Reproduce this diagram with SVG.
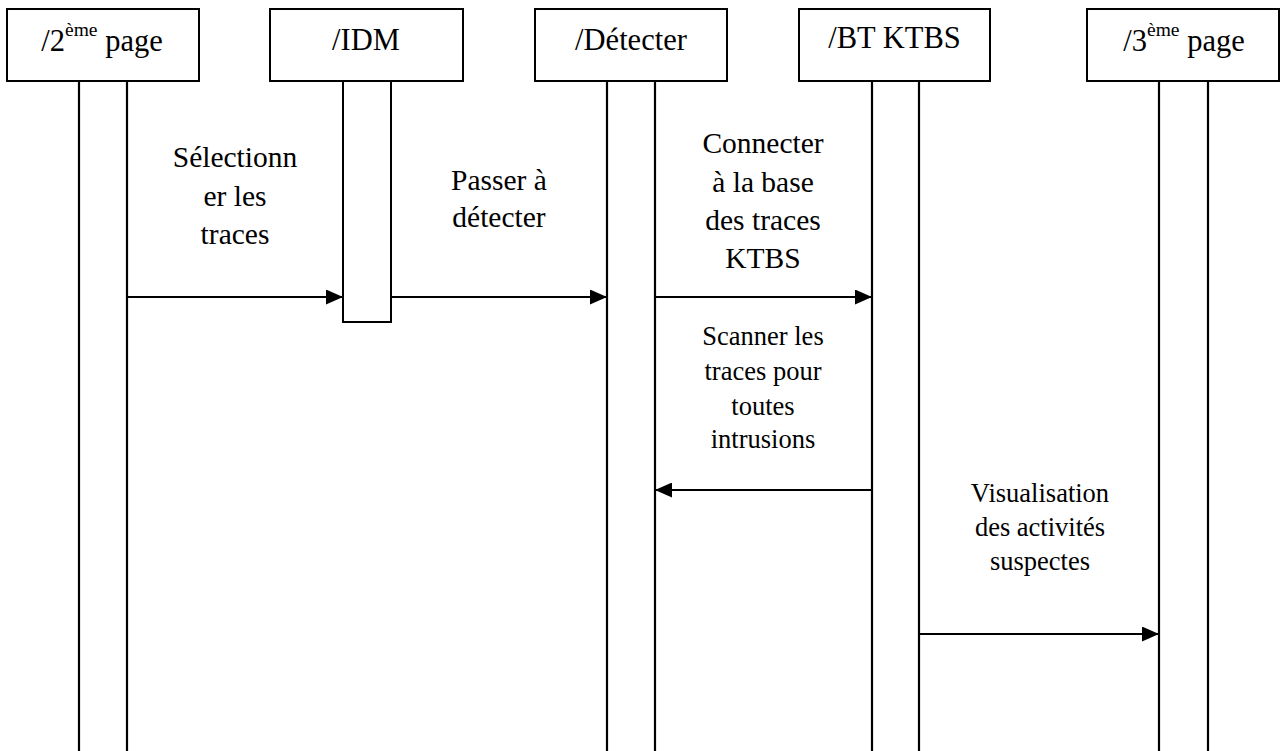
<svg xmlns="http://www.w3.org/2000/svg" width="1281" height="751" viewBox="0 0 1281 751">
  <defs>
    <style>
      .box { fill: #ffffff; stroke: #000000; stroke-width: 2; }
      .life { stroke: #000000; stroke-width: 2.2; fill: none; }
      .msg { stroke: #000000; stroke-width: 2.2; fill: none; }
      .hdr { font-family: "Liberation Serif", "Times New Roman", serif; font-size: 30.5px; fill: #000000; text-anchor: middle; }
      .sup { font-size: 19.5px; }
      .lbl { font-family: "Liberation Serif", "Times New Roman", serif; font-size: 29.5px; fill: #000000; text-anchor: middle; }
      .lbl-s { font-family: "Liberation Serif", "Times New Roman", serif; font-size: 26.5px; fill: #000000; text-anchor: middle; }
    </style>
    <marker id="arrow" markerUnits="userSpaceOnUse" markerWidth="17" markerHeight="15" refX="17" refY="7.5" orient="auto">
      <path d="M0,0 L17,7.5 L0,15 Z" fill="#000000"/>
    </marker>
  </defs>
  <rect width="1281" height="751" fill="#ffffff"/>

  <!-- lifeline: /2ème page -->
  <g id="node-page2">
    <rect class="box" x="7" y="9" width="192" height="72"/>
    <line class="life" x1="79" y1="81" x2="79" y2="751"/>
    <line class="life" x1="127" y1="81" x2="127" y2="751"/>
    <text class="hdr" x="102" y="51">/2<tspan class="sup" dy="-15">ème</tspan><tspan dy="15"> page</tspan></text>
  </g>

  <!-- lifeline: /IDM (short activation) -->
  <g id="node-idm">
    <rect class="box" x="270" y="9" width="193" height="72"/>
    <rect class="box" x="343" y="81" width="48" height="241"/>
    <text class="hdr" x="366" y="50">/IDM</text>
  </g>

  <!-- lifeline: /Détecter -->
  <g id="node-detecter">
    <rect class="box" x="535" y="9" width="192" height="72"/>
    <line class="life" x1="607" y1="81" x2="607" y2="751"/>
    <line class="life" x1="655" y1="81" x2="655" y2="751"/>
    <text class="hdr" x="631" y="50">/Détecter</text>
  </g>

  <!-- lifeline: /BT KTBS -->
  <g id="node-btktbs">
    <rect class="box" x="799" y="9" width="191" height="72"/>
    <line class="life" x1="872" y1="81" x2="872" y2="751"/>
    <line class="life" x1="919" y1="81" x2="919" y2="751"/>
    <text class="hdr" x="894.5" y="48">/BT KTBS</text>
  </g>

  <!-- lifeline: /3ème page -->
  <g id="node-page3">
    <rect class="box" x="1087" y="9" width="192" height="72"/>
    <line class="life" x1="1159" y1="81" x2="1159" y2="751"/>
    <line class="life" x1="1208" y1="81" x2="1208" y2="751"/>
    <text class="hdr" x="1184" y="51">/3<tspan class="sup" dy="-15">ème</tspan><tspan dy="15"> page</tspan></text>
  </g>

  <!-- messages -->
  <g id="connectors">
    <line class="msg" x1="127" y1="297" x2="343" y2="297" marker-end="url(#arrow)"/>
    <line class="msg" x1="391" y1="297" x2="607" y2="297" marker-end="url(#arrow)"/>
    <line class="msg" x1="655" y1="297" x2="872" y2="297" marker-end="url(#arrow)"/>
    <line class="msg" x1="872" y1="490" x2="655" y2="490" marker-end="url(#arrow)"/>
    <line class="msg" x1="919" y1="634" x2="1159" y2="634" marker-end="url(#arrow)"/>
  </g>

  <!-- message labels -->
  <g id="labels">
    <text class="lbl" x="235" y="167">Sélectionn</text>
    <text class="lbl" x="235" y="206">er les</text>
    <text class="lbl" x="235" y="244">traces</text>

    <text class="lbl" x="499" y="190">Passer à</text>
    <text class="lbl" x="499" y="227">détecter</text>

    <text class="lbl" x="763" y="153">Connecter</text>
    <text class="lbl" x="763" y="192">à la base</text>
    <text class="lbl" x="763" y="230">des traces</text>
    <text class="lbl" x="763" y="268">KTBS</text>

    <text class="lbl-s" x="763" y="345">Scanner les</text>
    <text class="lbl-s" x="763" y="380">traces pour</text>
    <text class="lbl-s" x="763" y="415">toutes</text>
    <text class="lbl-s" x="763" y="448">intrusions</text>

    <text class="lbl-s" x="1040" y="502">Visualisation</text>
    <text class="lbl-s" x="1040" y="536">des activités</text>
    <text class="lbl-s" x="1040" y="570">suspectes</text>
  </g>
</svg>
